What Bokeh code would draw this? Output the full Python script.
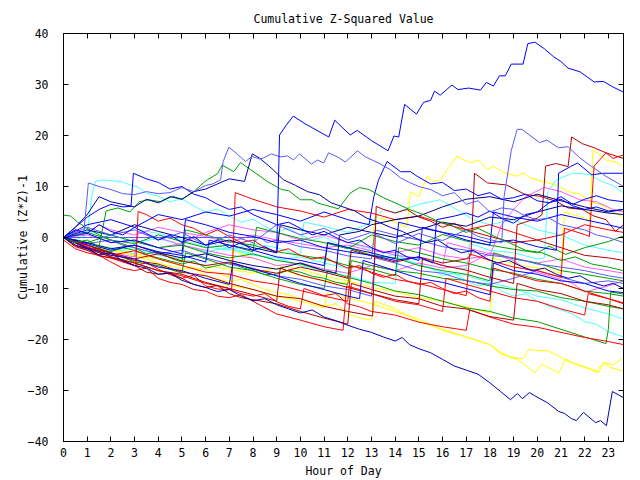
from bokeh.plotting import figure
from bokeh.models import LinearAxis, FixedTicker, Range1d
from bokeh.embed import file_html
from bokeh.resources import INLINE

# ---------------- data (hour of day, cumulative (Z*Z)-1) ----------------
x_ticks = list(range(24))
y_ticks = [-40, -30, -20, -10, 0, 10, 20, 30, 40]
title_text = "Cumulative Z-Squared Value"
x_label = "Hour of Day"
y_label = "Cumulative (Z*Z)-1"

top_blue_h = [0,0.5,1,1.5,2,2.5,3,3.5,4,4.5,5,5.5,6,6.5,7,7.5,8,8.5,9.0,9.12,9.4,9.7,10.2,10.7,11.2,11.45,12.1,12.4,13.0,13.7,13.95,14.15,14.4,14.9,15.2,15.5,15.66,15.9,16.4,16.65,17.1,17.6,17.85,18.15,18.4,18.65,18.9,19.4,19.6,19.9,20.3,20.7,21.0,21.3,21.8,22.1,22.4,22.8,23.2,23.64]
top_blue_v = [0,1.5,0.8,2.5,1.2,0.5,2.0,0.8,-0.5,0.5,-1.0,0.2,-1.5,-0.5,-2.0,-1.0,-2.5,-1.8,-3.0,20.1,22.0,23.8,22.3,21.0,19.7,23.0,20.1,21.0,19.0,17.0,19.9,19.7,26.1,24.2,26.5,26.9,28.7,27.9,29.9,29.0,29.3,28.9,30.4,29.7,31.7,31.7,34.0,34.0,38.0,38.3,37.0,35.4,34.5,33.2,32.5,31.5,30.5,30.6,29.5,28.5]

low_blue_h = [0,0.5,1,1.5,2,2.5,3,3.5,4,4.5,5,5.5,6,6.5,7,7.5,8,8.5,9,9.5,10,10.5,11,11.5,12,12.5,13,13.5,14,14.3,14.6,15,15.5,16,16.5,17,17.5,18,18.45,18.87,19.16,19.37,19.67,19.88,20.43,20.9,21.15,21.44,21.65,21.95,22.46,22.67,22.92,23.17,23.64]
low_blue_v = [0,-1.5,-2.2,-3.4,-3.0,-4.6,-5.5,-6.0,-7.2,-7.0,-8.4,-9.2,-9.8,-10.6,-10.2,-11.5,-12.4,-12.0,-13.2,-14.0,-14.8,-14.2,-15.6,-16.3,-17.2,-18.0,-18.6,-19.5,-20.3,-19.6,-21.0,-21.8,-22.6,-23.9,-25.2,-26.0,-26.8,-28.5,-30.2,-31.8,-30.6,-31.6,-30.4,-31.0,-32.4,-34.1,-34.5,-35.5,-35.9,-34.3,-36.3,-35.9,-36.9,-30.2,-31.4]

mb_high_h = [0,1,2,3,4,5,6,7,8,9,10,11,12,13,14,15,16,17,17.5,18,18.5,18.6,18.9,19.15,19.35,20.1,20.4,20.9,21.3,21.8,22.3,22.9,23.64]
mb_high_v = [0,2.0,0.5,1.5,-0.5,1.0,-1.5,0.5,-1.0,2.5,0.5,1.8,-0.5,1.0,-1.2,0.8,-0.6,1.5,0.2,-0.4,-1.0,8.0,17.0,21.2,21.2,18.6,19.1,17.6,17.8,15.6,13.9,12.0,10.0]

mb_mid_h = [0,0.5,0.85,1.05,1.5,2,2.5,3,3.5,4,4.5,5,5.5,6,6.3,6.63,6.74,6.98,7.3,7.68,7.97,8.27,8.44,8.78,9.16,9.46,9.71,9.96,10.47,10.72,10.98,11.19,11.57,11.9,12.41,12.75,13.3,13.8,14.23,14.6,15.0,15.5,16.0,16.5,17.0,17.5,18.0,18.5,19.0,19.5,20.0,20.5,21.0,21.5,22.0,22.5,23.0,23.64]
mb_mid_v = [0,1.0,0.5,10.7,10.0,9.4,8.6,8.4,9.0,8.6,8.8,9.8,9.0,10.2,10.5,11.3,14.9,17.7,16.5,14.9,15.9,15.4,15.6,16.4,15.8,16.0,15.2,16.4,14.4,15.2,14.6,16.6,15.8,14.8,17.0,15.8,14.6,13.3,11.7,10.8,10.0,9.4,8.2,8.8,6.5,7.2,5.0,5.8,5.5,4.2,3.5,3.8,2.5,2.0,1.5,0.5,0.0,-1.0]

db_mid_h = [0,0.5,1,1.5,2,2.5,3,3.5,4,4.5,5,5.5,6,6.5,7,7.64,7.97,8.27,8.8,9.29,9.8,10.3,10.8,11.3,11.8,12.3,12.8,13.3,13.8,14.3,14.8,15.3,15.8,16.3,16.8,17.3,17.8,18.3,18.8,19.3,19.8,20.3,20.8,21.3,21.8,22.3,22.8,23.2,23.64]
db_mid_v = [0,2.0,4.5,8.0,7.0,6.5,6.0,7.5,6.8,8.0,7.5,9.0,9.5,10.5,11.5,11.0,16.4,15.6,13.5,11.3,10.2,9.0,8.4,6.8,6.0,5.2,3.8,3.0,2.0,1.2,0.0,-1.0,-0.5,-2.0,-3.0,-2.5,-4.0,-5.0,-4.5,-5.6,-6.5,-6.0,-7.2,-8.0,-7.5,-8.8,-9.5,-9.0,-10.0]

red1_h = [0,0.5,1,1.5,2,2.5,3,3.5,4,4.5,5,5.5,6,6.5,7,7.5,8,8.5,9,9.5,10,10.15,11,11.5,12,12.5,13,14,15,16,17,17.15,18,19,20,21,22,23,23.64]
red1_v = [0,-1.6,-2.5,-2.0,-4.0,-4.6,-5.5,-5.0,-6.2,-7.3,-8.0,-7.4,-9.5,-10.1,-10.2,-11.0,-11.5,-11.0,-12.6,-13.5,-14,-10,-11.4,-11.0,-13,-13.6,-14.5,-15.2,-16.6,-17.5,-18.2,-14.2,-15.6,-17,-17.6,-18.6,-19.6,-20.4,-21]

red2_h = [0,1,2,3,4,5,6,7,8,9,10,11,12,12.15,13,14,15,16,17,17.15,18,19,20,21,21.15,22,22.2,22.4,22.9,23.2,23.64]
red2_v = [0,-1.8,-3.5,-2.6,-4.2,-5.5,-6.8,-7.2,-8.5,-9.2,-10.4,-11.5,-12.5,-5.5,-6.8,-8.2,-9.0,-10.2,-11.4,-3.2,-4.5,-5.8,-6.5,-7.8,1.8,0.6,0.2,14.0,16.6,15.5,16.2]

red3_h = [0,0.5,1,1.5,2,2.5,3.05,3.15,3.5,4,4.5,5,5.5,6,6.5,7,7.5,8,8.5,9,9.5,10,10.5,11,11.5,12,12.5,13,13.5,14,14.5,15,15.5,16,16.5,17,17.5,18,18.15,19,20,21,22,23,23.64]
red3_v = [0,-1.5,-2.2,-3.5,-4.0,-4.8,-5.6,5.1,4.5,3.2,3.8,2.5,1.8,0.5,1.5,0.2,-1.0,-0.5,-2.0,-2.8,-2.2,-3.5,-4.2,-3.8,-5.0,-6.0,-5.5,-7.0,-7.8,-7.2,-8.5,-9.2,-8.8,-10.0,-11.0,-10.5,-11.8,-12.5,-6.0,-7.2,-8.5,-9.0,-10.5,-12.0,-13.0]

red4_h = [0,1,2,3,4,5,6,7,7.1,7.25,8,9,10,11,12,13,14,15,16,17,18,19,20,21,22,23,23.64]
red4_v = [0,-2.0,-3.8,-5.0,-6.5,-7.5,-9.0,-10.0,-10.2,8.8,7.5,6.0,5.2,4.0,5.5,4.8,3.5,4.2,2.8,1.5,2.5,1.0,-0.5,0.5,2.5,1.5,1.0]

red5_h = [0,0.5,1,1.5,2,2.5,3,3.5,4,4.5,5,5.5,6,6.5,7,7.5,8,9,10,11,11.8,11.95,12.5,13,14,15,16,16.15,17,18,19,20,21,22,22.15,23,23.64]
red5_v = [-0.5,-2.2,-3.0,-3.5,-4.8,-6.0,-6.5,-6.0,-8.0,-8.8,-9.2,-10.2,-10.5,-11.5,-11.8,-11.2,-12.5,-15.0,-16.2,-17.5,-18.2,-9.5,-10.2,-11.0,-12.5,-13.2,-14.5,-8.0,-9.2,-10.5,-11.8,-12.5,-14.0,-15.2,-11.0,-12.0,-12.8]

dred1_h = [0,1,2,3,4,5,6,7,8,9,9.15,10,11,12,13,14,15,15.15,16,17,18,19,19.15,20,20.2,20.35,20.8,21.3,21.45,21.9,22.4,22.9,23.64]
dred1_v = [0,-2.2,-3.8,-5.0,-6.5,-7.2,-8.8,-10.0,-11.2,-12.5,-6.0,-7.4,-8.5,-9.8,-11.0,-12.2,-13.0,-4.2,-5.5,-6.4,-7.8,-9.0,2.5,3.8,4.5,14.0,14.5,13.9,19.7,18.4,17.6,16.6,15.5]

dred2_h = [0,1,2,3,4,5,6,7,8,9,10,11,12,12.15,13,14,15,16,17,17.2,17.35,17.9,18.7,19.5,20.1,20.8,21.3,21.9,22.4,22.9,23.3,23.64]
dred2_v = [0,-1.5,-3.0,-4.2,-3.2,-4.6,-5.5,-4.8,-6.2,-7.0,-5.8,-6.8,-8.0,-2.5,-3.6,-4.8,-3.8,-5.0,-4.2,-3.5,12.6,10.7,10.3,8.4,8.1,7.1,5.8,5.5,4.2,3.5,1.2,2.5]

dred3_h = [0,0.5,1,1.5,2,2.5,3,3.5,4,4.5,5,5.5,6,6.5,7,7.5,8,9,10,11,12,12.15,13,14,15,16,17,18,19,19.15,20,21,22,23,23.64]
dred3_v = [0,-1.8,-2.5,-3.6,-4.0,-4.4,-5.5,-6.8,-7.2,-7.0,-8.0,-9.2,-9.8,-9.4,-11.0,-11.8,-12.2,-13.0,-14.5,-15.8,-17.0,-9.0,-10.2,-11.5,-12.0,-13.5,-14.0,-15.5,-16.2,-9.0,-10.2,-11.0,-12.5,-13.2,-14.0]

dred4_h = [0,1,2,3,4,5,6,7,8,9,10,11,12,13.05,13.2,13.5,14,14.5,15,15.5,16,16.5,17,18,19,20,21,22,23,23.64]
dred4_v = [0,-1.5,-3.2,-4.5,-5.2,-6.8,-7.5,-9.0,-10.2,-11.5,-12.0,-13.5,-14.5,-15.4,6.1,5.5,4.8,5.5,4.0,3.2,2.0,2.8,1.5,0.2,-1.0,-0.5,-2.0,-3.5,-4.0,-4.5]

yel1_h = [0,1,2,3,4,5,6,7,8,9,10,11,12,12.15,13,13.15,14,14.5,14.65,15.0,15.35,15.6,15.9,16.6,17.2,17.5,17.9,18.15,18.6,19.15,19.4,19.7,20.2,20.8,21.3,21.8,22.3,22.8,23.2,23.64]
yel1_v = [0,-1,-2.5,-3.5,-2.8,-4.5,-5.5,-6.2,-7.0,-6.0,-7.5,-8.5,-9.0,-2.0,-3.5,4.0,3.0,2.0,9.0,8.0,12.0,11.0,11.3,15.9,14.6,15.2,13.3,14.0,12.7,12.0,12.7,11.7,11.0,10.3,9.0,8.5,7.0,6.2,5.0,4.0]

yel2_h = [0,1,2,3,4,5,6,7,7.15,8,9,10,11,12,13,14,15,16,17,18,18.15,19,20,21,21.15,22,22.2,22.35,22.9,23.3,23.64]
yel2_v = [0,-1.2,-2.0,-3.6,-4.2,-5.6,-6.3,-7.8,-2.6,-4.0,-5.5,-6.2,-7.6,-8.5,-9.8,-10.6,-11.8,-12.5,-13.6,-14.8,-4.0,-5.2,-6.0,-7.0,5.0,3.8,3.0,17.2,15.2,14.8,13.9]

yel3_h = [0,1,2,3,4,5,6,7,8,9,10,11,11.15,12,13,14,15,16,17,18,18.45,18.9,19.4,19.65,20.0,20.45,20.9,21.4,21.8,22.5,22.8,23.2,23.64]
yel3_v = [0,-2.0,-3.2,-4.5,-5.8,-6.6,-8.0,-9.4,-10.2,-11.6,-12.5,-13.8,-10.5,-11.8,-13.0,-14.5,-16.0,-18.2,-19.5,-21.0,-22.5,-23.5,-23.8,-21.9,-22.2,-22.2,-23.2,-24.5,-25.0,-26.2,-24.5,-25.0,-23.5]

yel4_h = [0,0.5,1,1.5,2,2.5,3,3.5,4,4.5,5,5.5,6,6.5,7,7.5,8,8.5,9,9.5,10,10.5,11,11.5,12,12.5,13,13.15,14,15,16,17,18,18.45,19.2,19.9,20.2,20.9,21.2,21.5,22.0,22.6,22.8,23.1,23.64]
yel4_v = [0,-0.4,-1.0,-2.0,-2.6,-2.2,-3.5,-4.3,-5.0,-5.6,-6.2,-6.0,-7.5,-8.2,-8.6,-8.2,-9.2,-10.2,-10.8,-11.2,-12.0,-12.8,-13.5,-13.0,-15.0,-15.8,-16.2,-12.5,-14.0,-16.5,-18.0,-19.5,-21.0,-22.8,-24.0,-26.5,-24.8,-26.6,-23.8,-24.6,-25.5,-26.5,-24.5,-25.5,-26.2]

cyan1_h = [0,0.5,1.0,1.2,1.35,1.7,2.5,2.8,3.1,3.5,4.0,4.5,5.0,5.5,6.0,6.5,7,7.5,8,8.5,9,9.5,10,10.5,11,11.5,12,12.5,13,13.5,14,14.5,15,15.5,16,16.5,17,17.5,18,18.5,19,19.5,20,20.5,21,21.5,22,22.5,23,23.64]
cyan1_v = [0,-0.5,0.5,8.4,11.0,11.3,10.9,10.3,10.0,8.7,8.1,7.0,7.6,6.2,5.0,5.6,4.2,3.0,3.6,2.2,1.0,1.8,0.5,-0.5,0.2,-1.2,-2.0,-1.5,-3.0,-4.0,-3.2,-4.5,-5.5,-6.0,-7.5,-7.0,-8.5,-9.5,-9.0,-10.5,-11.5,-11.0,-12.5,-13.5,-14.2,-15.0,-16.5,-17.0,-18.5,-19.5]

cyan2_h = [0,1,2,3,3.15,4,5,6,7,8,9,10,10.15,11,12,13,13.5,14,15,15.9,17.3,18,19,20,21,22,23,23.64]
cyan2_v = [0,-1.5,-2.0,-3.2,1.5,0.8,-0.5,-1.8,-2.5,-1.2,-2.0,-3.5,3.0,2.2,1.0,3.0,5.5,4.9,6.5,7.4,3.5,2.5,3.5,1.5,0.5,-1.5,-2.5,-3.0]

cyan3_h = [0,1,2,3,4,5,6,6.15,7,8,9,10,11,12,13,14,14.15,15,16,17,18,19,20,21,22,23,23.64]
cyan3_v = [0,-1.0,-2.5,-2.0,-3.5,-4.2,-5.5,-1.0,-2.2,-3.5,-4.0,-5.5,-6.8,-7.5,-8.8,-9.0,-4.0,-5.2,-6.8,-7.5,-8.8,-10.0,-11.5,-12.2,-13.8,-15.0,-16.0]

cyan4_h = [0,1,2,3,4,5,6,7,8,9,10,11,12,12.15,13,14,15,16,17,17.15,18,19,20,20.3,20.45,20.8,21.5,22.2,22.7,23.2,23.64]
cyan4_v = [0,1.2,0.5,-1.0,-0.2,-1.5,-2.8,-2.0,-3.2,-4.5,-3.8,-5.0,-6.0,-1.0,-2.2,-3.5,-4.2,-5.5,-6.2,-1.2,-2.5,-3.0,-4.2,-4.0,9.0,11.3,12.6,12.4,11.0,10.2,8.7]

green1_h = [0,0.3,0.6,1,1.5,2,2.5,3,3.5,4,4.5,5,5.15,6,7,8,9,10,11,12,13,14,14.15,15,16,17,18,19,20,21,22,23,23.64]
green1_v = [4.4,4.2,3.0,1.8,0.5,-0.5,-1.5,-2.0,-3.2,-2.8,-4.0,-4.8,1.5,0.5,-0.8,-1.5,-2.8,-3.5,-4.2,-5.5,-6.2,-7.5,-2.0,-3.0,-4.2,-5.0,-6.2,-7.0,-8.2,-9.0,-10.5,-11.0,-11.5]

green2_h = [0,0.5,1,1.5,1.8,2.3,2.8,3.2,3.6,4.1,4.6,5.0,5.5,5.9,6.07,6.5,6.7,7.19,7.47,8.3,8.6,9.2,9.5,10.0,10.5,10.7,11.4,11.6,12.1,12.5,12.9,13.5,14.0,14.6,15.2,15.8,16.3,17.0,17.5,18.2,18.8,19.5,20.2,21.0,21.6,22.3,23.0,23.64]
green2_v = [0,-1,-0.5,-1.8,5.2,5.8,5.0,7.0,7.4,7.0,8.1,7.5,9.0,10.7,11.3,12.5,14.2,12.9,14.7,12.0,11.0,9.4,9.2,7.4,7.4,6.8,5.9,5.6,8.7,9.8,9.4,7.8,6.8,5.5,4.5,3.2,2.5,1.0,1.8,0.2,-1.0,-2.5,-3.0,-4.5,-3.8,-5.2,-5.8,-6.5]

green3_h = [0,1,2,3,4,5,5.15,6,7,8,9,10,11,11.15,12,13,14,15,16,17,18,19,20,21,22,22.9,23.0,23.1,23.64]
green3_v = [0,-2.0,-3.0,-4.8,-5.5,-7.0,-3.0,-4.2,-5.8,-6.5,-8.0,-9.2,-10.0,-6.5,-7.8,-9.0,-10.5,-11.2,-12.5,-13.8,-14.5,-15.8,-16.5,-18.0,-19.5,-20.8,-18.0,-10.7,-11.1]

green4_h = [0,1,2,3,4,5,6,7,8,8.15,9,10,11,12,13,14,15,16,17,18,19,20,20.5,21.2,22,23,23.64]
green4_v = [0,1.0,-0.5,-1.2,0.5,-0.8,-2.0,-1.5,-2.8,2.0,1.0,-0.2,-1.0,-2.2,0.5,-0.8,-1.5,0.6,-0.7,-1.5,-2.3,-3.0,-1.7,-3.3,-2.0,-0.8,0.3]

green5_h = [0,0.5,1,1.5,2,2.5,3,3.5,4,4.5,5,5.5,6,6.5,7,7.5,8,8.5,9,9.5,10,10.5,11,11.5,12,12.15,13,14,15,16,17,18,19,20,21,22,23,23.64]
green5_v = [0,-0.8,-1.5,-2.2,-2.8,-2.0,-2.5,-3.4,-4.0,-4.6,-5.2,-4.6,-6.0,-5.5,-5.0,-5.8,-6.5,-7.3,-7.2,-6.4,-6.8,-7.6,-8.0,-8.8,-9.2,-4.5,-5.5,-6.5,-7.0,-8.0,-8.4,-9.5,-10.2,-10.5,-11.8,-12.5,-13.5,-14.0]

green6_h = [0,1,2,3,4,5,6,7,8,9,10,11,11.15,12,13,14,15,16,17,18,18.15,19,20,21,22,23,23.64]
green6_v = [0,-1.0,0.5,-0.8,-2.0,-1.5,-3.0,-4.0,-3.2,-4.5,-5.2,-6.5,-1.0,-2.0,-3.5,-4.0,-5.5,-6.5,-7.2,-8.5,-3.0,-4.2,-5.0,-6.5,-7.2,-8.0,-8.5]

mag1_h = [0,0.5,1,1.5,2,3,4,5,6,7,8,9,10,11,12,13,14,15,16,17,18,18.5,19,19.5,20.3,21,21.8,22.5,23.2,23.64]
mag1_v = [0,1.5,0.8,2.5,1.5,0.5,2.0,1.0,0.2,-1.0,0.5,-0.5,-1.2,-2.0,-1.5,-2.6,-3.0,-2.0,-3.5,-4.2,-3.5,2.5,5.5,8.0,9.8,9.0,7.4,7.0,5.5,5.0]

mag2_h = [0,1,2,3,3.15,4,5,6,7,8,9,10,11,12,13,14,15,16,17,18,19,19.5,20.5,21.5,22,23,23.64]
mag2_v = [0,-1.5,-3.0,-3.8,1.0,0.0,-1.5,-2.5,-3.5,-4.0,-5.5,-5.0,-6.2,-7.0,-5.5,-6.5,-5.0,-6.0,-5.5,-3.0,-4.5,-6.2,-7.5,-9.0,-10.7,-9.5,-8.5]

mag3_h = [0,1,2,3,4,5,6,7,8,9,10,11,12,13,14,15,16,16.2,17,18,19,20,21,22,23,23.64]
mag3_v = [0,0.5,-1.0,-0.5,-2.0,-1.2,1.0,2.5,1.5,1.0,-0.5,0.5,-1.0,-2.0,-3.5,-4.0,-5.5,-1.0,-2.0,-3.2,-4.0,-5.0,-4.2,-5.8,-6.5,-7.0]

blue1_h = [0,1,2,3,4,5,6,6.15,7,8,9,10,11,11.15,12,13,14,14.15,15,16,17,18,19,20,20.8,20.9,21.4,21.7,22.3,22.8,23.64]
blue1_v = [0,-1.2,-2.5,-1.5,-2.8,-3.5,-4.8,-0.5,-1.5,-2.5,-3.8,-4.5,-5.5,-1.0,-2.0,-3.0,-4.2,3.0,2.0,1.0,0.2,-1.0,-0.5,-1.8,-2.5,12.6,13.9,14.6,12.3,12.6,12.6]

blue2_h = [0,1,2,3,4,5,6,7,8,9,10,11,12,12.9,13.1,13.3,13.66,14.23,14.65,14.93,15.5,16,16.5,17,17.5,18,18.5,19,19.5,20,20.5,21,21.5,22,22.5,23,23.64]
blue2_v = [0,2.5,3.5,2.0,4.5,3.5,5.0,4.2,5.5,4.5,3.2,5.0,3.5,2.5,8.0,11.3,14.9,12.9,12.9,12.0,10.5,10.8,9.2,9.5,8.2,8.8,7.5,7.8,8.5,7.2,6.8,7.5,6.2,5.5,6.0,5.2,5.5]

blue3_h = [0,0.5,1.0,1.5,2.0,2.5,2.85,2.95,3.5,4.0,4.5,5.0,5.5,6.0,6.5,7.0,7.5,8.0,8.5,9.0,9.5,10.0,10.5,11.0,11.5,12.0,12.5,13.0,13.5,14.0,14.5,15.0,15.15,16,17,18,18.15,19,20,21,22,23,23.64]
blue3_v = [0,2.0,4.0,5.5,6.5,6.0,6.1,12.6,11.5,10.8,9.5,10.0,8.5,7.8,6.5,5.5,6.0,4.5,3.5,2.5,3.0,1.8,0.5,1.2,0.0,-1.0,-0.5,-2.0,-3.0,-2.5,-3.8,-4.5,2.0,1.0,-0.5,-1.5,5.0,4.0,3.2,4.5,3.5,2.5,1.8]

blue4_h = [0,1,2,3,4,5,6,7,7.15,8,9,10,11,12,12.5,12.65,13,14,15,16,17,18,18.15,19,20,21,22,23,23.64]
blue4_v = [0,-2.0,-3.5,-4.2,-5.8,-6.5,-8.0,-9.2,-5.0,-6.2,-7.5,-9.0,-10.2,-11.5,-12.0,-4.5,-5.0,-6.5,-8.0,-8.8,-10.0,-11.2,-5.0,-6.5,-7.2,-8.5,-9.0,-10.5,-10.8]

blue5_h = [0,1,2,3,4,5,5.15,6,7,8,9,10,11,12,13,14,15,15.6,15.75,16.5,17,17.5,18,18.6,19,19.5,20,20.5,21,21.5,22,22.5,23,23.64]
blue5_v = [0,0.8,-1.0,-0.5,-2.0,-3.2,3.5,2.5,1.0,0.2,-1.0,-0.5,-2.0,-2.8,-3.5,-4.5,-3.8,-5.0,3.5,4.2,4.8,4.0,5.2,3.5,2.8,4.5,5.0,6.8,8.0,6.5,7.5,8.2,7.4,7.0]

mb_flat_h = [0,8.3,8.6,9,10,11,12,13,13.15,14,15,16,17,18,19,20,21,22,23,23.64]
mb_flat_v = [0,0,-1.0,-0.5,-1.8,-2.5,-3.6,-4.2,1.5,0.5,-0.5,-1.8,-2.5,-3.5,-4.0,-5.2,-5.8,-6.5,-7.5,-8.0]

mb_low_h = [0,1,2,3,4,5,6,7,8,9,10,11,12,13,13.15,14,15,16,17,18,19,20,21,22,23,23.64]
mb_low_v = [0,-1.2,-0.5,-2.0,-3.2,-2.5,-4.0,-5.2,-6.0,-7.5,-8.2,-9.5,-10.2,-11.5,-4.0,-5.0,-6.5,-7.0,-8.5,-9.2,-8.0,-6.5,-7.8,-9.0,-8.5,-9.0]

navy1_h = [0,1,2,3,4,5,6,7,8,9,9.15,10,11,12,13,14,15,16,17,18,19,20,21,22,23,23.64]
navy1_v = [0,1.5,0.5,2.5,1.2,0.0,-1.5,-0.5,-2.0,-3.0,2.5,1.5,0.5,2.0,1.0,0.0,1.5,3.0,2.2,4.0,3.5,5.0,6.2,5.5,4.8,4.5]

navy2_h = [0,1,2,3,4,5,6,7,8,9,10,11,11.5,11.65,12.5,13,14,15,16,17,18,19,20,21,22,23,23.64]
navy2_v = [0,-1.0,-2.2,-1.5,-3.0,-4.0,-3.2,-4.5,-5.5,-6.2,-5.0,-6.5,-7.0,0.5,1.2,2.5,3.5,4.2,6.0,7.5,8.0,7.0,8.5,7.2,6.0,5.0,5.5]

BLUE, MBLUE, DBLUE, NAVY = "#0000ff", "#5a5aff", "#0000b4", "#000080"
RED, DRED, GREEN = "#ff0000", "#b40000", "#00a000"
YELLOW, CYAN, MAGENTA = "#ffff00", "#50ffff", "#ff5aff"

series = [
    (yel2_h, yel2_v, YELLOW), (yel3_h, yel3_v, YELLOW), (yel4_h, yel4_v, YELLOW), (yel1_h, yel1_v, YELLOW),
    (cyan1_h, cyan1_v, CYAN), (cyan2_h, cyan2_v, CYAN), (cyan3_h, cyan3_v, CYAN), (cyan4_h, cyan4_v, CYAN),
    (mag1_h, mag1_v, MAGENTA), (mag2_h, mag2_v, MAGENTA), (mag3_h, mag3_v, MAGENTA),
    (green1_h, green1_v, GREEN), (green3_h, green3_v, GREEN), (green4_h, green4_v, GREEN),
    (green5_h, green5_v, GREEN), (green6_h, green6_v, GREEN),
    (mb_flat_h, mb_flat_v, MBLUE), (mb_low_h, mb_low_v, MBLUE),
    (red1_h, red1_v, RED), (red3_h, red3_v, RED), (red4_h, red4_v, RED), (red5_h, red5_v, RED),
    (dred3_h, dred3_v, DRED), (dred4_h, dred4_v, DRED), (dred2_h, dred2_v, DRED), (dred1_h, dred1_v, DRED),
    (red2_h, red2_v, RED),
    (navy1_h, navy1_v, NAVY), (navy2_h, navy2_v, NAVY),
    (blue4_h, blue4_v, BLUE), (blue5_h, blue5_v, BLUE), (blue3_h, blue3_v, BLUE),
    (blue2_h, blue2_v, BLUE), (blue1_h, blue1_v, BLUE),
    (green2_h, green2_v, GREEN),
    (db_mid_h, db_mid_v, DBLUE), (mb_mid_h, mb_mid_v, MBLUE), (mb_high_h, mb_high_v, MBLUE),
    (low_blue_h, low_blue_v, DBLUE), (top_blue_h, top_blue_v, BLUE),
]

FONT = "DejaVu Sans Mono"

p = figure(width=640, height=480, x_range=Range1d(0, 23.64), y_range=Range1d(-40, 40),
           output_backend="svg", toolbar_location=None,
           min_border_left=63, min_border_right=17, min_border_top=33, min_border_bottom=37,
           background_fill_color="white", border_fill_color="white")
p.xgrid.visible = False
p.ygrid.visible = False
p.outline_line_color = "black"
p.outline_line_width = 1

p.title.text = title_text
p.title.align = "center"
p.title.text_font = FONT
p.title.text_font_size = "11.5px"
p.title.text_font_style = "normal"
p.title.text_color = "black"
p.title.standoff = 16

for h, v, c in series:
    assert len(h) == len(v), (len(h), len(v))
    p.line(h, v, line_color=c, line_width=1)

def style_axis(ax):
    ax.axis_line_color = "black"
    ax.major_tick_in = 5
    ax.major_tick_out = 0
    ax.major_tick_line_color = "black"
    ax.minor_tick_line_color = None
    ax.major_label_text_font = FONT
    ax.major_label_text_font_size = "11.5px"
    ax.major_label_text_color = "black"
    ax.axis_label_text_font = FONT
    ax.axis_label_text_font_size = "11.5px"
    ax.axis_label_text_font_style = "normal"
    ax.axis_label_text_color = "black"

xa = p.xaxis[0]
xa.ticker = FixedTicker(ticks=x_ticks)
style_axis(xa)
xa.major_label_standoff = 6
xa.axis_label = x_label
xa.axis_label_standoff = 4

ya = p.yaxis[0]
ya.ticker = FixedTicker(ticks=y_ticks)
style_axis(ya)
ya.major_label_standoff = 15
ya.axis_label = y_label
ya.axis_label_standoff = -5

top = LinearAxis(ticker=FixedTicker(ticks=x_ticks),
                 major_label_overrides={t: "" for t in x_ticks})
style_axis(top)
top.major_label_standoff = 0
p.add_layout(top, "above")

right = LinearAxis(ticker=FixedTicker(ticks=y_ticks),
                   major_label_overrides={t: "" for t in y_ticks})
style_axis(right)
right.major_label_standoff = 0
p.add_layout(right, "right")

open("out.html", "w").write(file_html(p, INLINE))
